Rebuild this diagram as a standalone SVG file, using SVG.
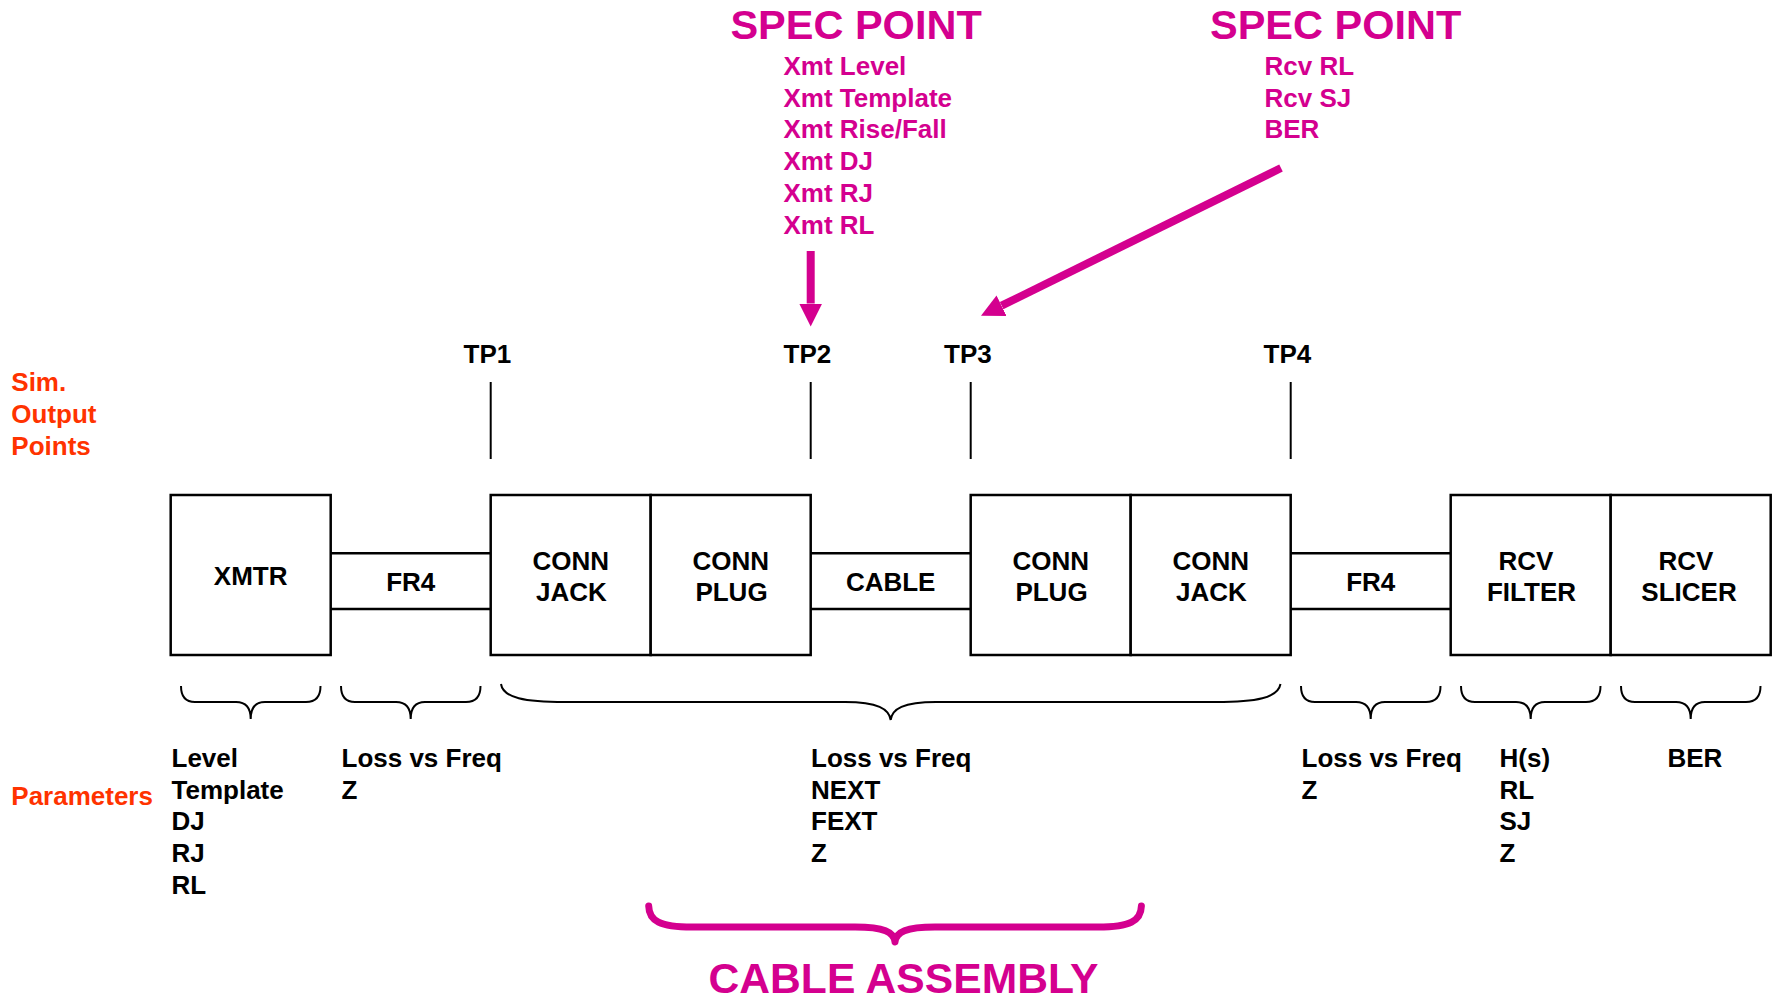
<svg xmlns="http://www.w3.org/2000/svg" width="1773" height="1002" viewBox="0 0 1773 1002">
<style>
  text { font-family: "Liberation Sans", Arial, sans-serif; font-weight: bold; }
  .t { font-size: 26px; fill: #000; }
  .lbl { font-size: 26px; fill: #000; text-anchor: middle; }
  .red { font-size: 26px; fill: #FF3300; }
  .mag { font-size: 26px; fill: #D4008F; }
  .big { font-size: 41.5px; fill: #D4008F; }
  .box { fill: #fff; stroke: #000; stroke-width: 2.5; }
  .band { stroke: #000; stroke-width: 2.5; fill: none; }
  .tp { stroke: #000; stroke-width: 2; }
  .brace { fill: none; stroke: #000; stroke-width: 2; }
  .mbrace { fill: none; stroke: #D4008F; stroke-width: 7; stroke-linecap: round; stroke-linejoin: round; }
  .arrow { stroke: #D4008F; stroke-width: 8; fill: none; stroke-linecap: butt; }
</style>
<defs>
  <marker id="ah" markerUnits="userSpaceOnUse" markerWidth="23" markerHeight="23" viewBox="0 0 23 23" refX="0" refY="11.5" orient="auto">
    <path d="M0,0 L23,11.5 L0,23 z" fill="#D4008F"/>
  </marker>
</defs>
<rect width="1773" height="1002" fill="#fff"/>

<!-- Spec point annotations -->
<g id="spec1">
  <text class="big" x="730.4" y="39">SPEC POINT</text>
  <text class="mag" x="783.5" y="75">Xmt Level</text>
  <text class="mag" x="783.5" y="106.7">Xmt Template</text>
  <text class="mag" x="783.5" y="138.4">Xmt Rise/Fall</text>
  <text class="mag" x="783.5" y="170.1">Xmt DJ</text>
  <text class="mag" x="783.5" y="201.8">Xmt RJ</text>
  <text class="mag" x="783.5" y="233.5">Xmt RL</text>
</g>
<g id="spec2">
  <text class="big" x="1210" y="39">SPEC POINT</text>
  <text class="mag" x="1264.5" y="75">Rcv RL</text>
  <text class="mag" x="1264.5" y="106.7">Rcv SJ</text>
  <text class="mag" x="1264.5" y="138.4">BER</text>
</g>

<!-- Side labels -->
<g id="sim-label">
  <text class="red" x="11.3" y="391">Sim.</text>
  <text class="red" x="11.3" y="423">Output</text>
  <text class="red" x="11.3" y="455">Points</text>
</g>
<g id="param-label">
  <text class="red" x="11.3" y="805">Parameters</text>
</g>

<!-- Test points -->
<g id="tp1"><text class="t" x="463.6" y="363">TP1</text></g>
<g id="tp2"><text class="t" x="783.6" y="363">TP2</text></g>
<g id="tp3"><text class="t" x="944" y="363">TP3</text></g>
<g id="tp4"><text class="t" x="1263.5" y="363">TP4</text></g>

<!-- Blocks -->
<g id="xmtr">
  <rect class="box" x="170.7" y="495" width="160" height="160"/>
  <text class="lbl" x="250.7" y="585">XMTR</text>
</g>
<g id="fr4-tx">
  <path class="band" d="M330.7,553.3 H490.7 M330.7,609 H490.7"/>
  <text class="lbl" x="410.7" y="590.5">FR4</text>
</g>
<g id="conn-jack-1">
  <rect class="box" x="490.7" y="495" width="160" height="160"/>
  <text class="lbl" x="570.7" y="570">CONN</text>
  <text class="lbl" x="571.5" y="601">JACK</text>
</g>
<g id="conn-plug-1">
  <rect class="box" x="650.7" y="495" width="160" height="160"/>
  <text class="lbl" x="730.7" y="570">CONN</text>
  <text class="lbl" x="731.5" y="601">PLUG</text>
</g>
<g id="cable">
  <path class="band" d="M810.7,553.3 H970.7 M810.7,609 H970.7"/>
  <text class="lbl" x="890.7" y="590.5">CABLE</text>
</g>
<g id="conn-plug-2">
  <rect class="box" x="970.7" y="495" width="160" height="160"/>
  <text class="lbl" x="1050.7" y="570">CONN</text>
  <text class="lbl" x="1051.5" y="601">PLUG</text>
</g>
<g id="conn-jack-2">
  <rect class="box" x="1130.7" y="495" width="160" height="160"/>
  <text class="lbl" x="1210.7" y="570">CONN</text>
  <text class="lbl" x="1211.5" y="601">JACK</text>
</g>
<g id="fr4-rx">
  <path class="band" d="M1290.7,553.3 H1450.7 M1290.7,609 H1450.7"/>
  <text class="lbl" x="1370.7" y="590.5">FR4</text>
</g>
<g id="rcv-filter">
  <rect class="box" x="1450.7" y="495" width="160" height="160"/>
  <text class="lbl" x="1526" y="570">RCV</text>
  <text class="lbl" x="1531.5" y="601">FILTER</text>
</g>
<g id="rcv-slicer">
  <rect class="box" x="1610.7" y="495" width="160" height="160"/>
  <text class="lbl" x="1686" y="570">RCV</text>
  <text class="lbl" x="1689" y="601">SLICER</text>
</g>

<!-- Parameter lists -->
<g id="params-xmtr">
  <text class="t" x="171.5" y="767">Level</text>
  <text class="t" x="171.5" y="798.7">Template</text>
  <text class="t" x="171.5" y="830.4">DJ</text>
  <text class="t" x="171.5" y="862.1">RJ</text>
  <text class="t" x="171.5" y="893.8">RL</text>
</g>
<g id="params-fr4-tx">
  <text class="t" x="341.5" y="767">Loss vs Freq</text>
  <text class="t" x="341.5" y="798.7">Z</text>
</g>
<g id="params-cable">
  <text class="t" x="811" y="767">Loss vs Freq</text>
  <text class="t" x="811" y="798.7">NEXT</text>
  <text class="t" x="811" y="830.4">FEXT</text>
  <text class="t" x="811" y="862.1">Z</text>
</g>
<g id="params-fr4-rx">
  <text class="t" x="1301.5" y="767">Loss vs Freq</text>
  <text class="t" x="1301.5" y="798.7">Z</text>
</g>
<g id="params-filter">
  <text class="t" x="1499.5" y="767">H(s)</text>
  <text class="t" x="1499.5" y="798.7">RL</text>
  <text class="t" x="1499.5" y="830.4">SJ</text>
  <text class="t" x="1499.5" y="862.1">Z</text>
</g>
<g id="params-slicer">
  <text class="t" x="1667.5" y="767">BER</text>
</g>

<g id="cable-assembly">
  <text x="903.5" y="993" textLength="390" lengthAdjust="spacingAndGlyphs" style="font-size:42px;fill:#D4008F;text-anchor:middle">CABLE ASSEMBLY</text>
</g>

<!-- Connectors: TP lines, braces, arrows -->
<g id="connectors">
  <line class="tp" x1="490.7" y1="382" x2="490.7" y2="459"/>
  <line class="tp" x1="810.7" y1="382" x2="810.7" y2="459"/>
  <line class="tp" x1="970.7" y1="382" x2="970.7" y2="459"/>
  <line class="tp" x1="1290.7" y1="382" x2="1290.7" y2="459"/>

  <path class="brace" d="M181,686 Q181,702 195,702 L236,702 Q250.7,702 250.7,719 Q250.7,702 265,702 L306,702 Q320.5,702 320.5,686"/>
  <path class="brace" d="M341,686 Q341,702 355,702 L396,702 Q410.7,702 410.7,719 Q410.7,702 425,702 L466,702 Q480.5,702 480.5,686"/>
  <path class="brace" d="M501,684 C503,698 525,702 565,702 L845,702 C878,702 889,709 890.7,720 C892,709 903,702 936,702 L1216,702 C1256,702 1278,698 1280.5,684"/>
  <path class="brace" d="M1301,686 Q1301,702 1315,702 L1356,702 Q1370.7,702 1370.7,719 Q1370.7,702 1385,702 L1426,702 Q1440.5,702 1440.5,686"/>
  <path class="brace" d="M1461,686 Q1461,702 1475,702 L1516,702 Q1530.7,702 1530.7,719 Q1530.7,702 1545,702 L1586,702 Q1600.5,702 1600.5,686"/>
  <path class="brace" d="M1621,686 Q1621,702 1635,702 L1676,702 Q1690.7,702 1690.7,719 Q1690.7,702 1705,702 L1746,702 Q1760.5,702 1760.5,686"/>

  <path class="mbrace" d="M648.7,906 C649,921 660,927 692,927 L855,927 C884,927 894,932 895,942 C896,932 906,927 935,927 L1098,927 C1130,927 1141,921 1141.4,906"/>

  <line class="arrow" x1="810.7" y1="251" x2="810.7" y2="303.5" marker-end="url(#ah)"/>
  <line class="arrow" x1="1281" y1="168" x2="1001.6" y2="305.7" marker-end="url(#ah)"/>
</g>
</svg>
